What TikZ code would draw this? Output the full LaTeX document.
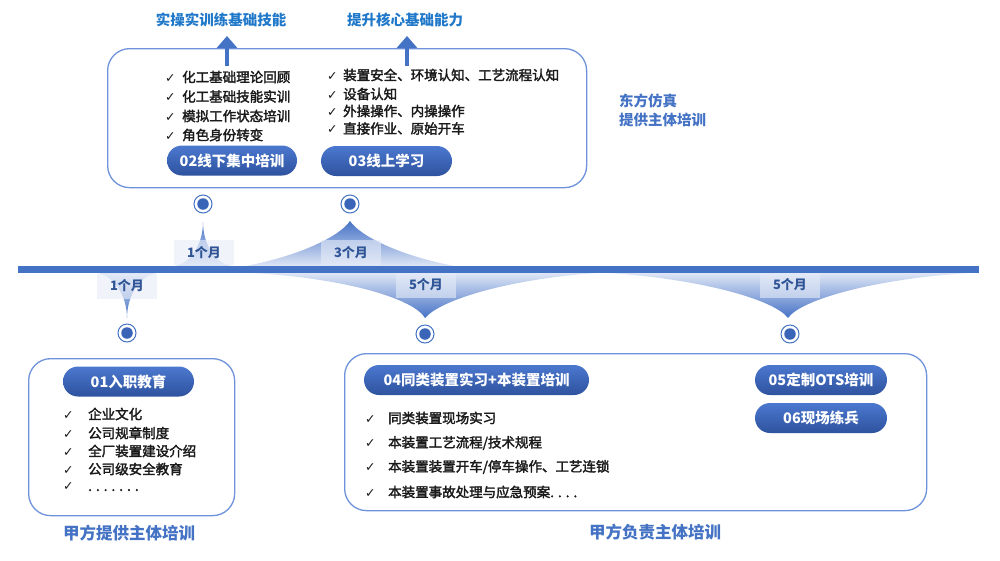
\documentclass[tikz,border=0pt]{standalone}
\usepackage{fontspec}
\setmainfont{Noto Sans CJK SC}
\newfontfamily\itemfam{Noto Sans CJK SC}[FakeBold=2.2]
\newfontfamily\symfont{DejaVu Sans}
\usetikzlibrary{arrows.meta}
\definecolor{mainblue}{HTML}{4472C4}
\definecolor{panelblue}{HTML}{6F93DA}
\definecolor{pilltop}{HTML}{4B78CF}
\definecolor{pillbot}{HTML}{2E529E}
\definecolor{toplab}{HTML}{1F78C9}
\definecolor{labblue}{HTML}{4472C4}
\definecolor{monthtxt}{HTML}{2F5597}
\definecolor{boxfill}{HTML}{E6ECF8}
\definecolor{spikelight}{HTML}{E0E7F6}
\definecolor{spikedark}{HTML}{4572C6}
\definecolor{dotblue}{HTML}{3A64B8}
\definecolor{itemtxt}{HTML}{1A1A1A}
\newcommand\itemfont{\itemfam\fontsize{13.5pt}{16pt}\selectfont}
\newcommand\pillfont{\bfseries\fontsize{14.5pt}{17pt}\selectfont}
\newcommand\chk[2]{\makebox[#1][l]{\symfont\fontsize{12.5pt}{14pt}\selectfont ✓}#2}
\begin{document}
\begin{tikzpicture}[x=1pt,y=-1pt,
  panel/.style={draw=panelblue, line width=1.3pt, rounded corners=22pt, inner sep=0pt, anchor=north west},
  pill/.style={rounded corners=15pt, top color=pilltop, bottom color=pillbot, text=white, font=\pillfont, minimum height=30pt, inner sep=0pt},
  itm/.style={anchor=west, text=itemtxt, font=\itemfont, inner sep=0pt},
  month/.style={fill=boxfill, fill opacity=0.6, text opacity=1, text=monthtxt, font=\bfseries\fontsize{13pt}{15pt}\selectfont, minimum width=60pt, minimum height=25pt, inner sep=0pt},
  spikeup/.style={top color=spikedark, bottom color=spikelight},
  spikedown/.style={top color=spikelight, bottom color=spikedark},
  ring/.style={circle, draw=mainblue, line width=1pt, fill=white, minimum size=18pt, inner sep=0pt},
  dotc/.style={circle, fill=dotblue, minimum size=11.5pt, inner sep=0pt},
  uparrow/.style={draw=mainblue, line width=4.5pt, -{Triangle[width=20pt,length=12pt]}},
  toplabel/.style={text=toplab, font=\bfseries\fontsize{14.5pt}{17pt}\selectfont, inner sep=0pt},
  grouplabel/.style={text=labblue, font=\bfseries\fontsize{16.5pt}{19pt}\selectfont, inner sep=0pt}
]
\useasboundingbox (0,0) rectangle (1000,560);
\fill[white] (0,0) rectangle (1000,560);

% panels
\node[panel, minimum width=479pt, minimum height=139pt] (toppanel) at (107,48) {};
\node[panel, minimum width=206pt, minimum height=157pt] (leftpanel) at (28,358) {};
\node[panel, minimum width=582pt, minimum height=157pt] (rightpanel) at (344,353) {};

% top labels and arrows
\node[toplabel] (labA) at (221,20) {实操实训练基础技能};
\node[toplabel] (labB) at (405,20) {提升核心基础能力};
\coordinate (afootA) at (227,66);
\coordinate (atipA) at (227,36);
\coordinate (afootB) at (407,66);
\coordinate (atipB) at (407,36);
\draw[uparrow] (afootA) -- (atipA);
\draw[uparrow] (afootB) -- (atipB);

% top-left list
\node[itm] (t1) at (165,77) {\chk{17pt}{化工基础理论回顾}};
\node[itm] (t2) at (165,96.5) {\chk{17pt}{化工基础技能实训}};
\node[itm] (t3) at (165,116) {\chk{17pt}{模拟工作状态培训}};
\node[itm] (t4) at (165,135) {\chk{17pt}{角色身份转变}};
% top-right list
\node[itm] (r1) at (327,75) {\chk{16pt}{装置安全、环境认知、工艺流程认知}};
\node[itm] (r2) at (327,94) {\chk{16pt}{设备认知}};
\node[itm] (r3) at (327,111) {\chk{16pt}{外操操作、内操操作}};
\node[itm] (r4) at (327,128.5) {\chk{16pt}{直接作业、原始开车}};

\node[pill, minimum width=130pt] (p02) at (232,160.5) {02线下集中培训};
\node[pill, minimum width=131pt] (p03) at (386.5,161) {03线上学习};

\node[anchor=west, align=left, text=labblue, font=\bfseries\fontsize{14.5pt}{19.5pt}\selectfont, inner sep=0pt] (dongfang) at (619,110.5) {东方仿真\\提供主体培训};

% spikes
\shade[spikeup] (170,266.5) .. controls (190,266) and (203,245) .. (203,222) .. controls (203,245) and (216,266) .. (236,266.5) -- cycle;
\shade[spikeup] (243,266.5) .. controls (300,256) and (340,236) .. (350,221) .. controls (360,236) and (400,256) .. (457,266.5) -- cycle;
\shade[spikedown] (93,272.5) .. controls (113,273) and (127,295) .. (127,318) .. controls (127,295) and (141,273) .. (161,272.5) -- cycle;
\shade[spikedown] (245,272.5) .. controls (350,278) and (415,300) .. (425,318) .. controls (440,300) and (510,278) .. (605,272.5) -- cycle;
\shade[spikedown] (600,272.5) .. controls (700,278) and (775,300) .. (788,318) .. controls (800,300) and (875,278) .. (977,272.5) -- cycle;

% timeline bar
\fill[mainblue] (18,266) rectangle (979,273);

% month labels
\node[month] (m1up) at (204,252.5) {1个月};
\node[month] (m3) at (351,252.5) {3个月};
\node[month] (m1down) at (127,286) {1个月};
\node[month] (m5a) at (426,285) {5个月};
\node[month] (m5b) at (790,285) {5个月};

% milestone dots
\node[ring] (c02) at (203,204) {};
\node[dotc] at (c02) {};
\node[ring] (c03) at (350,204) {};
\node[dotc] at (c03) {};
\node[ring] (c01) at (127,333) {};
\node[dotc] at (c01) {};
\node[ring] (c04) at (425,334) {};
\node[dotc] at (c04) {};
\node[ring] (c05) at (790,334) {};
\node[dotc] at (c05) {};

% bottom-left panel
\node[pill, minimum width=131pt] (p01) at (128.5,381.5) {01入职教育};
\node[itm] (l1) at (63,414) {\chk{25pt}{企业文化}};
\node[itm] (l2) at (63,433) {\chk{25pt}{公司规章制度}};
\node[itm] (l3) at (63,451) {\chk{25pt}{全厂装置建设介绍}};
\node[itm] (l4) at (63,469) {\chk{25pt}{公司级安全教育}};
\node[itm] (l5) at (63,487) {\chk{25pt}{. . . . . . .}};
\node[grouplabel] (glA) at (129,533) {甲方提供主体培训};

% bottom-right panel
\node[pill, minimum width=225pt] (p04) at (476.5,380) {04同类装置实习+本装置培训};
\node[pill, minimum width=132pt] (p05) at (821,380) {05定制OTS培训};
\node[pill, minimum width=132pt] (p06) at (821,418) {06现场练兵};
\node[itm] (b1) at (365,418) {\chk{23pt}{同类装置现场实习}};
\node[itm] (b2) at (365,443) {\chk{23pt}{本装置工艺流程/技术规程}};
\node[itm] (b3) at (365,467) {\chk{23pt}{本装置装置开车/停车操作、工艺连锁}};
\node[itm] (b4) at (365,492) {\chk{23pt}{本装置事故处理与应急预案. . . .}};
\node[grouplabel] (glB) at (655,532) {甲方负责主体培训};
\end{tikzpicture}
\end{document}
